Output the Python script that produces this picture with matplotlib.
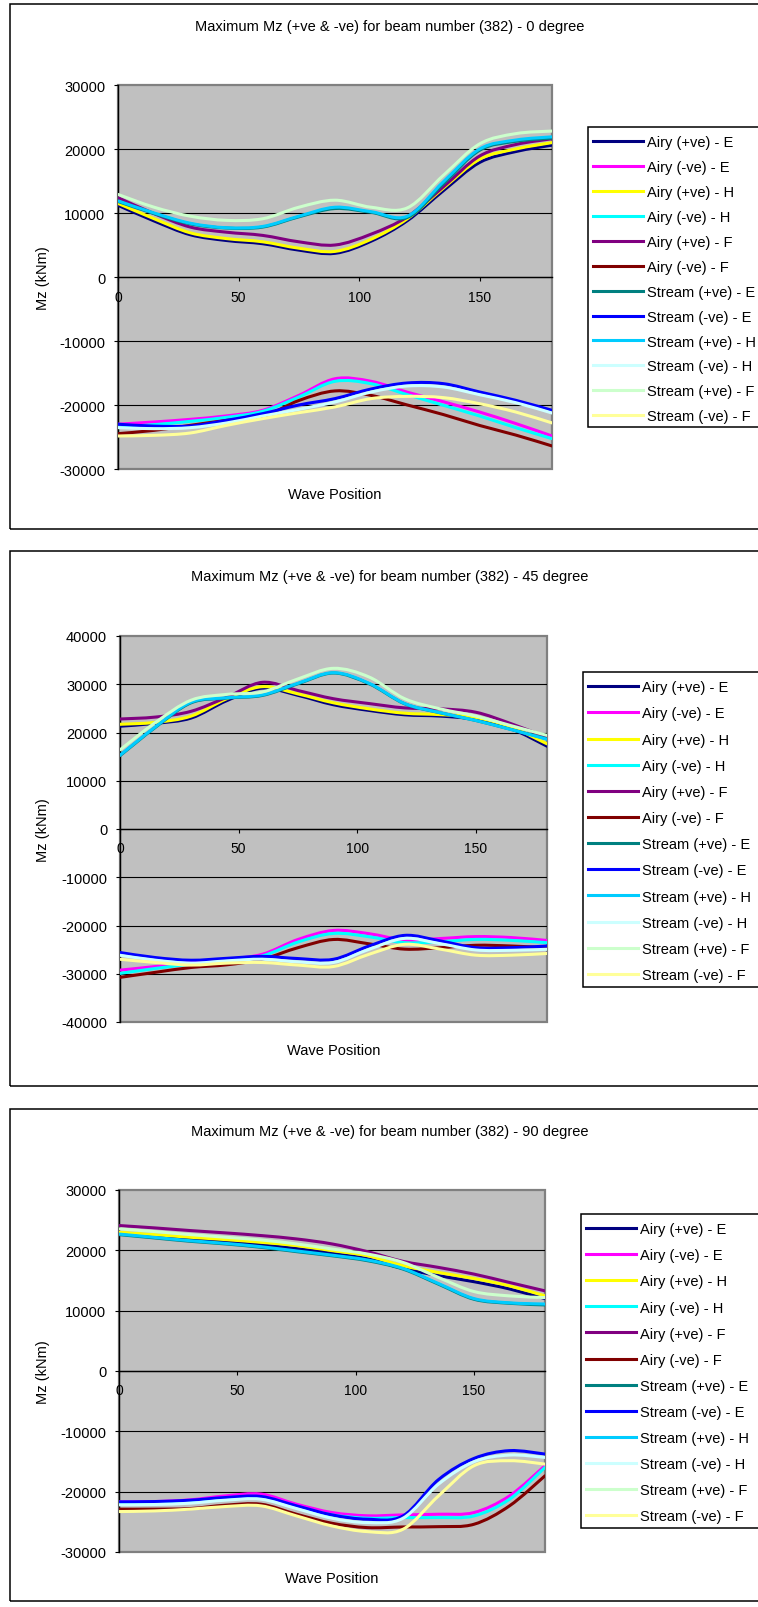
import numpy as np
import matplotlib
matplotlib.use("Agg")
import matplotlib.pyplot as plt
from matplotlib.path import Path
from matplotlib.patches import PathPatch, Rectangle
from matplotlib.lines import Line2D

plt.rcParams["font.family"] = ["Liberation Sans", "DejaVu Sans"]
plt.rcParams["axes.unicode_minus"] = False

# ---------------------------------------------------------------- data
wave_position = [0, 15, 30, 45, 60, 75, 90, 105, 120, 135, 150, 165, 180]

series_labels = ["Airy (+ve) - E", "Airy (-ve) - E", "Airy (+ve) - H", "Airy (-ve) - H",
                 "Airy (+ve) - F", "Airy (-ve) - F", "Stream (+ve) - E", "Stream (-ve) - E",
                 "Stream (+ve) - H", "Stream (-ve) - H", "Stream (+ve) - F", "Stream (-ve) - F"]
series_colors = ["#000080", "#FF00FF", "#FFFF00", "#00FFFF", "#800080", "#800000",
                 "#008080", "#0000FF", "#00CCFF", "#CCFFFF", "#CCFFCC", "#FFFF99"]

chart_titles = ["Maximum Mz (+ve & -ve) for beam number (382) - 0 degree",
                "Maximum Mz (+ve & -ve) for beam number (382) - 45 degree",
                "Maximum Mz (+ve & -ve) for beam number (382) - 90 degree"]

# 0 degree
airy_pos_e_0 = [11200, 8750, 6600, 5700, 5200, 4200, 3700, 5600, 8800, 13500, 17900, 19600, 20600]
airy_neg_e_0 = [-23000, -22650, -22240, -21700, -20830, -18500, -15900, -16300, -18000, -19500, -21100, -22900, -24840]
airy_pos_h_0 = [11500, 9100, 6900, 6000, 5500, 4500, 4000, 5900, 9100, 13900, 18400, 20000, 21000]
airy_neg_h_0 = [-23440, -23070, -22550, -21930, -20990, -18750, -16300, -16670, -18390, -20050, -21720, -23540, -25260]
airy_pos_f_0 = [12400, 9900, 7800, 7000, 6500, 5500, 5000, 6700, 9400, 14100, 18900, 20700, 21600]
airy_neg_f_0 = [-24480, -23960, -23180, -22400, -21800, -19300, -17800, -18500, -20000, -21500, -23200, -24700, -26400]
stream_pos_e_0 = [11800, 9900, 8300, 7650, 7800, 9400, 10700, 10100, 9300, 14600, 19800, 21200, 21700]
stream_neg_e_0 = [-23000, -23300, -23280, -22400, -21350, -20000, -19000, -17500, -16560, -16670, -17970, -19270, -20830]
stream_pos_h_0 = [11900, 10000, 8400, 7700, 7900, 9500, 10900, 10200, 9500, 14900, 20000, 21400, 21900]
stream_neg_h_0 = [-23540, -23700, -23540, -22810, -21720, -20680, -19530, -17970, -17030, -17190, -18390, -19640, -21250]
stream_pos_f_0 = [12900, 10900, 9500, 8850, 9100, 10900, 12000, 10900, 10800, 15900, 20800, 22400, 22800]
stream_neg_f_0 = [-24840, -24740, -24370, -23180, -22130, -21200, -20300, -19000, -18650, -18850, -19800, -21100, -22800]

# 45 degree
airy_pos_e_45 = [21300, 21900, 23000, 26600, 29200, 27700, 25750, 24570, 23670, 23400, 22700, 20760, 17160]
airy_neg_e_45 = [-29250, -28500, -27670, -27000, -25960, -22900, -21030, -21700, -23000, -22700, -22300, -22500, -23100]
airy_pos_h_45 = [21700, 22100, 23400, 27000, 29500, 28000, 26150, 24900, 24000, 23700, 23100, 21100, 17650]
airy_neg_h_45 = [-29930, -28900, -28010, -27330, -26300, -23430, -21640, -22330, -23560, -23360, -22880, -23080, -23560]
airy_pos_f_45 = [22800, 23200, 24400, 27300, 30400, 28700, 27000, 26000, 25100, 24900, 24200, 21800, 19000]
airy_neg_f_45 = [-30750, -29700, -28700, -28150, -27000, -24600, -22900, -23800, -24900, -24600, -24100, -24250, -24600]
stream_pos_e_45 = [15200, 21100, 26160, 27130, 27680, 30100, 32320, 30100, 25950, 24080, 22490, 20620, 18680]
stream_neg_e_45 = [-25600, -26650, -27200, -26800, -26400, -26850, -27000, -24250, -22050, -23200, -24600, -24600, -24250]
stream_pos_h_45 = [15300, 21200, 26300, 27200, 27800, 30200, 32400, 30200, 26000, 24100, 22500, 20600, 18600]
stream_neg_h_45 = [-26170, -27190, -27810, -27330, -26990, -27540, -27670, -24930, -22670, -23770, -25070, -25140, -24930]
stream_pos_f_45 = [16400, 22100, 26700, 27900, 28400, 31100, 33300, 31500, 27000, 24900, 23400, 21400, 19400]
stream_neg_f_45 = [-27000, -27670, -28200, -27800, -27670, -28200, -28500, -25960, -23900, -24900, -26150, -26150, -25800]

# 90 degree
airy_pos_e_90 = [22700, 22300, 21900, 21400, 20900, 20300, 19500, 18600, 17000, 15800, 14800, 13600, 12000]
airy_neg_e_90 = [-21690, -21640, -21360, -20700, -20400, -22080, -23460, -24000, -23850, -23740, -23460, -20700, -15700]
airy_pos_h_90 = [23000, 22600, 22170, 21780, 21330, 20780, 19950, 19110, 17450, 16330, 15330, 14110, 12450]
airy_neg_h_90 = [-21970, -21910, -21690, -21080, -20860, -22470, -23850, -24400, -24290, -24290, -24020, -21250, -15980]
airy_pos_f_90 = [24110, 23720, 23280, 22890, 22450, 21890, 21060, 19780, 18170, 17170, 16060, 14670, 13280]
airy_neg_f_90 = [-22900, -22900, -22800, -22240, -22080, -23740, -25240, -25960, -25850, -25800, -25400, -22350, -17370]
stream_pos_e_90 = [22600, 22050, 21500, 21060, 20500, 19780, 19100, 18280, 16890, 14390, 11890, 11220, 10950]
stream_neg_e_90 = [-21690, -21640, -21420, -20970, -20800, -22350, -23850, -24570, -24020, -18000, -14490, -13200, -13770]
stream_pos_h_90 = [22700, 22150, 21600, 21150, 20600, 19900, 19200, 18400, 17000, 14500, 12000, 11300, 11100]
stream_neg_h_90 = [-22190, -22130, -21910, -21410, -21250, -22800, -24400, -25120, -24400, -18750, -15040, -13930, -14320]
stream_pos_f_90 = [23560, 23110, 22610, 22170, 21720, 21060, 20220, 19390, 18000, 15500, 13170, 12450, 12170]
stream_neg_f_90 = [-23300, -23190, -22900, -22460, -22350, -24020, -25680, -26620, -26230, -20700, -15700, -14870, -15430]

series_0 = [airy_pos_e_0, airy_neg_e_0, airy_pos_h_0, airy_neg_h_0, airy_pos_f_0, airy_neg_f_0,
            stream_pos_e_0, stream_neg_e_0, stream_pos_h_0, stream_neg_h_0, stream_pos_f_0, stream_neg_f_0]
series_45 = [airy_pos_e_45, airy_neg_e_45, airy_pos_h_45, airy_neg_h_45, airy_pos_f_45, airy_neg_f_45,
             stream_pos_e_45, stream_neg_e_45, stream_pos_h_45, stream_neg_h_45, stream_pos_f_45, stream_neg_f_45]
series_90 = [airy_pos_e_90, airy_neg_e_90, airy_pos_h_90, airy_neg_h_90, airy_pos_f_90, airy_neg_f_90,
             stream_pos_e_90, stream_neg_e_90, stream_pos_h_90, stream_neg_h_90, stream_pos_f_90, stream_neg_f_90]

y_limits = [30000, 40000, 30000]

# ---------------------------------------------------------------- layout (pixels)
W, H = 758, 1608
FS = 10.5
FS_PX = FS * 100 / 72
LW = 2.2
fig = plt.figure(figsize=(W / 100, H / 100), dpi=100)

layouts = [
    dict(frame=(10, 5, 530), plot=(118, 86, 552, 470), title_y=27, ylab=(43.5, 278), xlab_y=495,
         legend=(588, 128, 428)),
    dict(frame=(10, 552, 1087), plot=(120, 637, 547, 1023), title_y=577, ylab=(43.5, 830), xlab_y=1051,
         legend=(583, 673, 988)),
    dict(frame=(10, 1110, 1602), plot=(119, 1191, 545, 1553), title_y=1132, ylab=(43.5, 1372), xlab_y=1579,
         legend=(581, 1215, 1529)),
]


def fx(px):
    return px / W


def fy(py):
    return 1 - py / H


def smooth_path(xs, ys):
    """Smoothed line through the points as cubic Bezier segments."""
    pts = np.column_stack([xs, ys]).astype(float)
    n = len(pts)
    verts = [pts[0]]
    codes = [Path.MOVETO]
    for i in range(n - 1):
        p0 = pts[i - 1] if i > 0 else pts[i]
        p1, p2 = pts[i], pts[i + 1]
        p3 = pts[i + 2] if i + 2 < n else pts[i + 1]
        verts += [p1 + (p2 - p0) / 6.0, p2 - (p3 - p1) / 6.0, p2]
        codes += [Path.CURVE4] * 3
    return Path(verts, codes)


for title, series, ylim, lay in zip(chart_titles, [series_0, series_45, series_90], y_limits, layouts):
    # chart frame (runs past the right edge of the page)
    fl, ft, fb = lay["frame"]
    fig.patches.append(Rectangle((fx(fl), fy(fb)), fx(900 - fl), (fb - ft) / H,
                                 transform=fig.transFigure, fill=False, edgecolor="black",
                                 linewidth=1.1, zorder=-2))

    pl, pt, pr, pb = lay["plot"]
    ax = fig.add_axes([fx(pl), fy(pb), (pr - pl) / W, (pb - pt) / H])
    ax.set_facecolor("#C0C0C0")
    ax.patch.set_edgecolor("#808080")
    ax.patch.set_linewidth(1.6)
    ax.set_xlim(0, 180)
    ax.set_ylim(-ylim, ylim)

    for vals, col in zip(series, series_colors):
        ax.add_patch(PathPatch(smooth_path(wave_position, vals), fill=False,
                               edgecolor=col, linewidth=LW, capstyle="round",
                               joinstyle="round", zorder=3))

    yt = np.arange(-ylim, ylim + 1, 10000)
    ax.set_yticks(yt)
    ax.set_yticklabels([str(int(v)) for v in yt], fontsize=FS)
    ax.set_xticks([0, 50, 100, 150])
    ax.set_xticklabels(["0", "50", "100", "150"], fontsize=FS)
    ax.tick_params(axis="y", direction="out", length=3, width=0.8, pad=6.2, colors="black")
    ax.tick_params(axis="x", direction="out", length=3, width=0.8, pad=6.0, colors="black")

    ax.yaxis.grid(True, color="black", linewidth=0.8)
    ax.set_axisbelow(True)
    ticks = ax.yaxis.get_major_ticks()
    ticks[0].gridline.set_visible(False)
    ticks[-1].gridline.set_visible(False)

    for side in ("top", "right"):
        ax.spines[side].set_visible(False)
    ax.spines["left"].set_color("black")
    ax.spines["left"].set_linewidth(1.0)
    ax.spines["bottom"].set_position(("data", 0))
    ax.spines["bottom"].set_color("black")
    ax.spines["bottom"].set_linewidth(1.0)

    fig.text(fx(390), fy(lay["title_y"]), title, ha="center", va="center", fontsize=FS)
    fig.text(fx(lay["ylab"][0]), fy(lay["ylab"][1]), "Mz (kNm)", rotation=90,
             ha="center", va="center", fontsize=FS)
    fig.text(fx((pl + pr) / 2), fy(lay["xlab_y"]), "Wave Position", ha="center", va="center",
             fontsize=FS)

    # legend box (open to the right, past the page edge)
    ll, lt, lb = lay["legend"]
    fig.patches.append(Rectangle((fx(ll), fy(lb)), fx(900 - ll), (lb - lt) / H,
                                 transform=fig.transFigure, facecolor="white", edgecolor="black",
                                 linewidth=1.1, zorder=-1))
    row = (lb - lt) / 12.0
    handles = [Line2D([], [], color=c, linewidth=LW) for c in series_colors]
    ax.legend(handles, series_labels, loc="upper left",
              bbox_to_anchor=(fx(ll - 3), fy(lt)), bbox_transform=fig.transFigure,
              frameon=False, fontsize=FS, borderaxespad=0, borderpad=0.57,
              handlelength=3.4, handletextpad=0.3,
              labelspacing=(row - 14.1) / FS_PX)

fig.savefig("out.png", dpi=100)
